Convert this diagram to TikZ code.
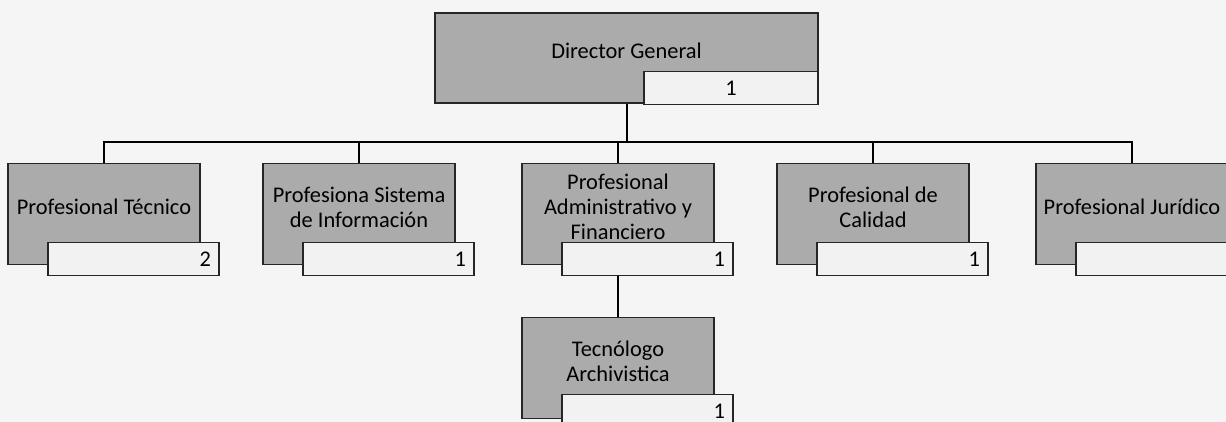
\documentclass[tikz,border=0pt]{standalone}
\usepackage{fontspec}
\setmainfont{Carlito}
\usetikzlibrary{positioning,calc}
\tikzset{
  cargo/.style={draw=black!85,line width=0.75pt,fill=black!33,
    minimum width=96pt,minimum height=50.5pt,inner sep=0pt},
  rotulo/.style={align=center,inner sep=0pt,yshift=3.5pt,
    font=\fontsize{11.2}{12.4}\selectfont},
  cupo/.style={draw=black!85,line width=0.75pt,fill=black!5,
    text width=77.5pt,inner xsep=4pt,inner ysep=0pt,minimum height=16.5pt,
    align=right,font=\fontsize{11.2}{12}\selectfont},
  conector/.style={line width=1pt,black}
}

\begin{document}
\begin{tikzpicture}[x=0.5pt,y=-0.5pt]
\useasboundingbox[fill=black!4] (0,0) rectangle (1226,422);
\clip (0,0) rectangle (1226,422);
% cargos
\node[cargo,minimum width=191.5pt,minimum height=45pt,
  label={[rotulo]center:Director General}] (dir) at (626.5,58) {};
\node[cargo,label={[rotulo]center:Profesional Técnico}] (tec) at (104,214) {};
\node[cargo,label={[rotulo]center:Profesiona Sistema\\de Información}] (sis) at (359,214) {};
\node[cargo,label={[rotulo]center:Profesional\\Administrativo y\\Financiero}] (adm) at (618,214) {};
\node[cargo,label={[rotulo]center:Profesional de\\Calidad}] (cal) at (873,214) {};
\node[cargo,label={[rotulo]center:Profesional Jurídico}] (jur) at (1132,214) {};
\node[cargo,label={[rotulo]center:Tecnólogo\\Archivistica}] (arc) at (618,368) {};
% lineas
\coordinate (barra) at (626.5,142);
\draw[conector] (dir.south) -- (barra);
\foreach \n in {tec,sis,adm,cal,jur}
  \draw[conector] (\n.north) |- (barra);
\draw[conector] (adm.south) -- (arc.north);
% cupos
\node[cupo,text width=79pt,align=center] (dir-n) at (731,88) {1};
\node[cupo] (tec-n) at ($(tec)+(29.5,45)$) {2};
\node[cupo] (sis-n) at ($(sis)+(29.5,45)$) {1};
\node[cupo] (adm-n) at ($(adm)+(29.5,45)$) {1};
\node[cupo] (cal-n) at ($(cal)+(29.5,45)$) {1};
\node[cupo] (jur-n) at ($(jur)+(29.5,45)$) {};
\node[cupo] (arc-n) at ($(arc)+(29.5,43)$) {1};
\end{tikzpicture}
\end{document}
